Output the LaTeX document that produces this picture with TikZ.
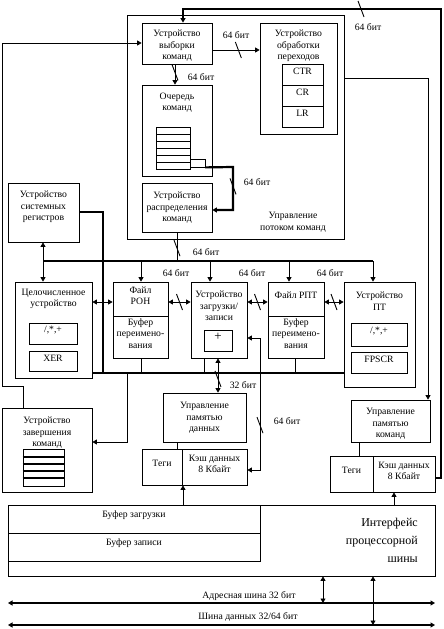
\documentclass[tikz,border=0pt]{standalone}
\usepackage{fontspec}
\setmainfont{Liberation Serif}
\usetikzlibrary{arrows.meta,fit}

% slash mark on a bus, with the number of bits beside it
\newcommand{\bitmark}[1]{\draw[slash] ([shift={(-3,-8)}]#1) -- ([shift={(3,8)}]#1);}

\begin{document}
\begin{tikzpicture}[x=1pt, y=-1pt, font=\fontsize{9.7}{11.5}\selectfont]

% Define styles
\tikzstyle{blk} = [draw, line width=0.8pt, inner sep=0pt, align=center]
\tikzstyle{txt} = [inner sep=0pt, align=center]
\tikzstyle{wire} = [line width=0.8pt]
\tikzstyle{bus} = [line width=1.4pt]
\tikzstyle{fat} = [line width=2.2pt]
\tikzstyle{slash} = [line width=0.9pt]
\tikzstyle{arr} = [-{Triangle[length=4.5pt,width=5pt]}]
\tikzstyle{darr} = [{Triangle[length=4.5pt,width=5pt]}-{Triangle[length=4.5pt,width=5pt]}]

\useasboundingbox (0,0) rectangle (444,629);

% Instruction flow control
\node[blk, fit={(127,15) (344,239)}] (flow) {};
\node[txt] (flowT) at (293,222.5) {Управление\\потоком команд};
\node[blk, fit={(142,23) (212,64)}] (fetch) {};
\node[txt] (fetchT) at (177,46) {Устройство\\выборки\\команд};
\node[blk, fit={(260,23) (337,134)}] (branch) {};
\node[txt] (branchT) at (298.5,46) {Устройство\\обработки\\переходов};
\node[blk, fit={(282,64) (323,85)}] (ctr) {CTR};
\node[blk, fit={(282,85) (323,106)}] (cr) {CR};
\node[blk, fit={(282,106) (323,127)}] (lr) {LR};
\node[blk, fit={(142,85) (212,176)}] (queue) {};
\node[txt] (queueT) at (177,102.5) {Очередь\\команд};
\foreach \i in {0,...,5}
  \node[blk, fit={(156,{127+\i*7}) (190,{134+\i*7})}] (slot\i) {};
\node[blk, fit={(190,159) (205,167)}] (qout) {};
\node[blk, fit={(142,183) (212,232)}] (disp) {};
\node[txt] (dispT) at (177,208) {Устройство\\распределения\\команд};

% System registers
\node[blk, fit={(8,183) (79,242)}] (sysreg) {};
\node[txt] (sysregT) at (43.5,207) {Устройство\\системных\\регистров};

% Execution units
\node[blk, fit={(15,282) (92,378)}] (intu) {};
\node[txt] (intuT) at (53.5,299) {Целочисленное\\устройство};
\node[blk, fit={(29,323) (77,344)}] (intalu) {/,*,+};
\node[blk, fit={(29,351) (77,371)}] (xer) {XER};
\node[blk, fit={(113,282) (168,316)}] (ron) {Файл\\РОН};
\node[blk, fit={(113,316) (168,358)}] (ronbuf) {Буфер\\переимено-\\вания};
\node[blk, fit={(191,282) (247,358)}] (lsu) {};
\node[txt] (lsuT) at (219,306) {Устройство\\загрузки/\\записи};
\node[blk, fit={(204,330) (232,351)}, font=\fontsize{13}{13}\selectfont] (adder) {+};
\node[blk, fit={(268,282) (324,316)}] (rpt) {Файл РПТ};
\node[blk, fit={(268,316) (324,358)}] (rptbuf) {Буфер\\переимено-\\вания};
\node[blk, fit={(344,282) (415,387)}] (fpu) {};
\node[txt] (fpuT) at (379.5,301) {Устройство\\ПТ};
\node[blk, fit={(351,323) (407,346)}] (fpalu) {/,*,+};
\node[blk, fit={(351,352) (407,373)}] (fpscr) {FPSCR};

% Completion unit
\node[blk, fit={(2,408) (92,492)}] (compl) {};
\node[txt] (complT) at (47,433) {Устройство\\завершения\\команд};
\node[blk, fit={(23,449) (64,486)}] (cstack) {};
\foreach \y in {457,464,471,478}
  \draw[line width=1.6pt] (cstack.west |- 0,\y) -- (cstack.east |- 0,\y);

% Memory management and caches
\node[blk, fit={(163,393) (246,442)}] (dmmu) {};
\node[txt] (dmmuT) at (204.5,418) {Управление\\памятью\\данных};
\node[blk, fit={(142,449) (182,485)}] (dtags) {Теги};
\node[blk, fit={(182,449) (247,485)}] (dcache) {Кэш данных\\8 Кбайт};
\node[blk, fit={(351,400) (430,442)}] (immu) {};
\node[txt] (immuT) at (390.5,424) {Управление\\памятью\\команд};
\node[blk, fit={(330,456) (373,492)}] (itags) {Теги};
\node[blk, fit={(373,456) (435,492)}] (icache) {Кэш данных\\8 Кбайт};

% Bus interface
\node[blk, fit={(8,505) (435,576)}] (biu) {};
\node[blk, fit={(8,505) (260,533)}] (lbuf) {Буфер загрузки};
\node[blk, fit={(8,533) (260,561)}] (sbuf) {Буфер записи};
\node[txt, align=right, anchor=east, font=\fontsize{12}{18}\selectfont] (biuT) at (418,540) {Интерфейс\\процессорной\\шины};

% Fetch paths
\draw[wire,arr] (compl.north -| 23,0) -- (23,386) -- (2,386) -- (2,43) -- (fetch.west |- 0,43);
\draw[wire,arr] (fetch.east |- 0,50) -- coordinate[pos=0.55] (m1) (branch.west |- 0,50);
\bitmark{m1}
\node[txt] (l1) at (236,35) {64 бит};
\draw[wire,arr] (fetch.south -| 175,0) -- coordinate[pos=0.4] (m2) (queue.north -| 175,0);
\bitmark{m2}
\node[txt] (l2) at (201,77) {64 бит};
\draw[fat,arr] (qout.south east) -- (233,167) -- coordinate[pos=0.45] (m3) (233,210) -- (disp.east |- 0,210);
\bitmark{m3}
\node[txt] (l3) at (257,182) {64 бит};
\draw[fat,arr] (icache.east |- 0,478) -- (441,478) -- (441,9) -- coordinate[pos=0.31] (m4) (183,9) -- (fetch.north -| 183,0);
\bitmark{m4}
\node[txt] (l4) at (368,27) {64 бит};
\draw[wire,arr] (flow.east |- 0,78) -- (428,78) -- (immu.north -| 428,0);

% Dispatch bus
\draw[wire] (disp.south -| 177,0) -- coordinate[pos=0.55] (m5) (177,261);
\bitmark{m5}
\node[txt] (l5) at (206,252) {64 бит};
\coordinate (b1L) at (43,261);
\coordinate (b1R) at (373,261);
\draw[bus] (b1L) -- (b1R);
\draw[wire,arr] (b1R) -- (fpu.north -| b1R);
\draw[wire,darr] (sysreg.south -| b1L) -- (intu.north -| b1L);
\foreach \x/\n in {141/ron, 210/lsu, 289/rpt}
  \draw[wire,arr] (\x,261) -- (\n.north -| \x,0);

% Result bus
\draw[fat] (sysreg.east |- 0,212) -- (103,212) -- (103,373);
\draw[fat] (intu.east |- 0,373) -- (fpu.west |- 0,373);
\draw[wire] (ronbuf.south -| 141,0) -- (141,373);
\draw[wire] (lsu.south -| 204,0) -- (204,373);
\draw[wire] (rptbuf.south -| 295,0) -- (295,373);
\draw[wire,arr] (127,373) -- (127,442) -- (compl.east |- 0,442);

% Register file links
\draw[wire,darr] (intu.east |- 0,302) -- (ron.west |- 0,302);
\draw[wire,darr] (ron.east |- 0,302) -- coordinate (m6) (lsu.west |- 0,302);
\bitmark{m6}
\node[txt] (l6) at (176,273) {64 бит};
\draw[wire,darr] (lsu.east |- 0,302) -- coordinate (m7) (rpt.west |- 0,302);
\bitmark{m7}
\node[txt] (l7) at (252,273) {64 бит};
\draw[wire,darr] (rpt.east |- 0,302) -- coordinate (m8) (fpu.west |- 0,302);
\bitmark{m8}
\node[txt] (l8) at (330,273) {64 бит};

% Data memory paths
\draw[wire,darr] (lsu.south -| 218,0) -- coordinate[pos=0.6] (m9) (dmmu.north -| 218,0);
\bitmark{m9}
\node[txt] (l9) at (243,385) {32 бит};
\draw[wire,darr] (lsu.east |- 0,338) -- (260,338) -- coordinate[pos=0.66] (m10) (260,470) -- (dcache.east |- 0,470);
\bitmark{m10}
\node[txt] (l10) at (287,421) {64 бит};
\draw[wire] (dmmu.south -| 177,0) -- (dtags.north -| 177,0);
\draw[wire,arr] (biu.north -| 183,0) -- (dcache.south -| 183,0);
\draw[wire] (immu.south -| 359,0) -- (itags.north -| 359,0);
\draw[wire,arr] (biu.north -| 394,0) -- (icache.south -| 394,0);

% External buses
\coordinate (abL) at (8,603);
\coordinate (abR) at (435,603);
\coordinate (dbL) at (8,625);
\coordinate (dbR) at (435,625);
\draw[fat,darr] (abL) -- (abR);
\draw[fat,darr] (dbL) -- (dbR);
\node[txt] (abT) at (249,596) {Адресная шина 32 бит};
\node[txt] (dbT) at (248,617) {Шина данных 32/64 бит};
\draw[wire,darr] (biu.south -| 323,0) -- (abL -| 323,0);
\draw[wire,darr] (biu.south -| 373,0) -- (dbL -| 373,0);

\end{tikzpicture}
\end{document}
